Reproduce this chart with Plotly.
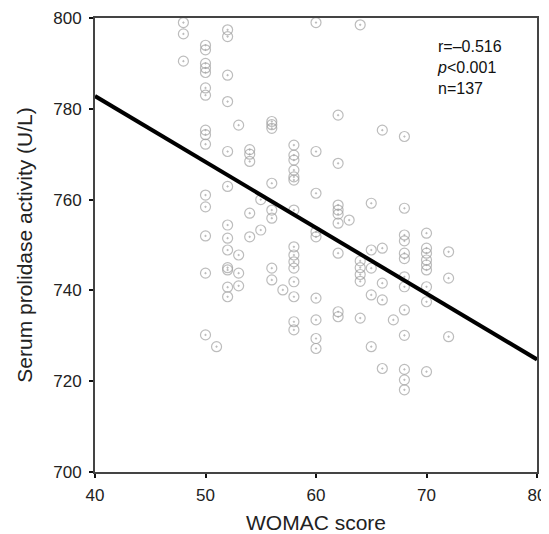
import plotly.graph_objects as go

# WOMAC score columns and serum prolidase values
col_48 = [799, 796.5, 790.5]
col_50 = [794, 793, 790, 789, 788, 784.6, 783, 775.3, 774.3, 772.2, 761, 758.4, 752, 743.8, 730.2]
col_51 = [727.6]
col_52 = [797.4, 795.9, 787.4, 781.6, 770.6, 762.9, 754.4, 751.5, 748.9, 745, 744.5, 740.7, 738.6]
col_53 = [776.4, 747.8, 743.8, 741]
col_54 = [771, 770, 768.4, 757, 751.8]
col_55 = [760, 753.3]
col_56 = [777.2, 776.5, 775.7, 763.6, 757.7, 755.9, 744.9, 742.3]
col_57 = [740.1]
col_58 = [772, 769.8, 768.7, 766.5, 765, 764.3, 757.7, 749.6, 747.8, 746.3, 744.9, 741.9, 738.6, 733.1, 731.3]
col_60 = [799, 770.6, 761.4, 752.9, 751.8, 738.3, 733.5, 729.4, 727.2]
col_62 = [778.6, 768, 758.8, 757.7, 756.8, 754.8, 748.2, 735.3, 734.2]
col_63 = [755.5]
col_64 = [798.5, 746.5, 745, 743.5, 742, 733.9]
col_65 = [759.2, 748.9, 744.9, 739, 727.6]
col_66 = [775.3, 749.3, 741.6, 737.9, 722.8]
col_67 = [733.5]
col_68 = [773.9, 758.1, 752.2, 750.9, 748.2, 747, 743, 740.8, 735.7, 730.1, 722.6, 720.3, 718.1]
col_70 = [752.6, 749.3, 748.2, 746.7, 745.6, 744.5, 740.8, 737.5, 722.1]
col_72 = [748.5, 742.7, 729.8]

columns = {48: col_48, 50: col_50, 51: col_51, 52: col_52, 53: col_53, 54: col_54,
           55: col_55, 56: col_56, 57: col_57, 58: col_58, 60: col_60, 62: col_62,
           63: col_63, 64: col_64, 65: col_65, 66: col_66, 67: col_67, 68: col_68,
           70: col_70, 72: col_72}

# fitted regression line
fit_x = [40, 80]
fit_y = [782.8, 724.8]

x_ticks = [40, 50, 60, 70, 80]
y_ticks = [700, 720, 740, 760, 780, 800]

xs, ys = [], []
for k, vals in columns.items():
    for v in vals:
        xs.append(k)
        ys.append(v)

FONT = "Liberation Sans, Arial"

fig = go.Figure()
fig.add_trace(go.Scatter(
    x=xs, y=ys, mode="markers",
    marker=dict(symbol="circle-open-dot", size=10, color="rgba(160,160,160,0.7)",
                line=dict(width=1.2)),
    showlegend=False, hoverinfo="skip", cliponaxis=False))
fig.add_trace(go.Scatter(
    x=fit_x, y=fit_y, mode="lines",
    line=dict(color="black", width=4), showlegend=False, hoverinfo="skip"))

fig.add_annotation(
    xref="paper", yref="paper", x=0.77, y=0.96, xanchor="left", yanchor="top",
    align="left", showarrow=False,
    text="r=\u20130.516<br><i>p</i><0.001<br>n=137",
    font=dict(family=FONT, size=16, color="#111"))

axis_common = dict(showline=True, linecolor="#444", linewidth=2, mirror=True,
                   ticks="outside", ticklen=4, tickwidth=2, tickcolor="#111",
                   showgrid=False, zeroline=False, automargin=False,
                   tickfont=dict(family=FONT, size=17, color="#222"))

fig.update_xaxes(range=[40, 80], tickvals=x_ticks, ticklabelstandoff=3,
                 title=dict(text="WOMAC score", font=dict(family=FONT, size=21, color="#222"),
                            standoff=20),
                 **axis_common)
fig.update_yaxes(range=[700, 800], tickvals=y_ticks, ticklabelstandoff=4,
                 title=dict(text="Serum prolidase activity (U/L)",
                            font=dict(family=FONT, size=21, color="#222"),
                            standoff=15),
                 **axis_common)

# page body has an 8px margin, so the figure is sized and padded to compensate
fig.update_layout(width=541, height=526, margin=dict(l=87, r=12, t=10, b=62),
                  plot_bgcolor="white", paper_bgcolor="white")

fig.write_html("out.html")
